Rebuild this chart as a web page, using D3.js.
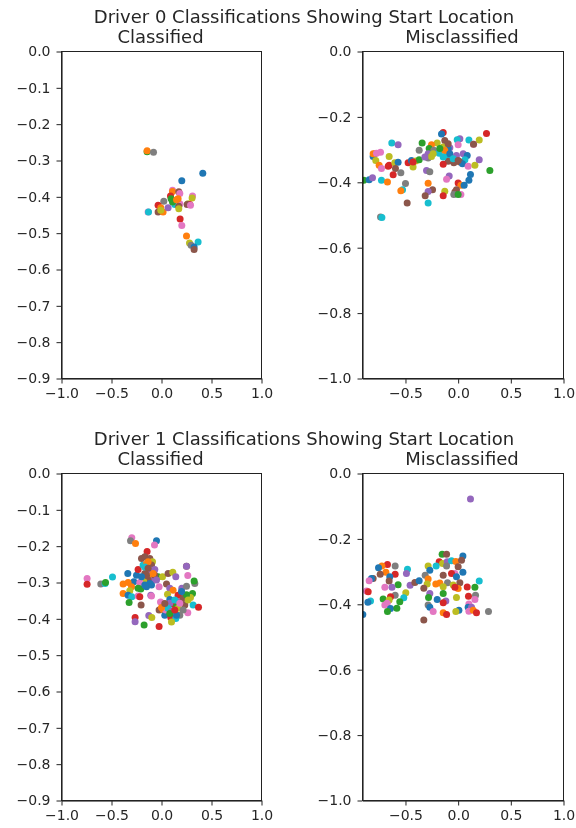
<!DOCTYPE html>
<html>
<head>
<meta charset="utf-8">
<script src="https://cdn.jsdelivr.net/npm/d3@7"></script>
<style>
body { margin: 0; background: #fff; }
svg { display: block; filter: blur(0.45px); }
text { font-family: "DejaVu Sans", sans-serif; fill: #262626; }
</style>
</head>
<body>
<div id="chart"></div>
<script>
// driver 0, classified
var d0ClassX = [-.144,-.144,-.080,.413,.203,.110,.110,.173,.183,.310,.306,.090,.096,.023,.133,.110,-.034,-.007,-.034,.016,-.007,.066,-.134,-.130,.183,.173,.173,.266,.283,.256,.290,.166,.150,.186,.203,.250,.366,.280,.296,.326,.326];
var d0ClassY = [-.276,-.273,-.277,-.335,-.356,-.382,-.385,-.386,-.391,-.398,-.403,-.398,-.405,-.412,-.421,-.414,-.423,-.430,-.442,-.442,-.437,-.430,-.442,-.442,-.419,-.426,-.433,-.419,-.421,-.421,-.423,-.405,-.408,-.461,-.479,-.508,-.524,-.527,-.533,-.538,-.545];
var d0ClassCat = [2,1,7,0,0,6,1,5,6,6,8,3,2,7,9,2,3,1,5,1,8,4,6,9,6,5,8,8,3,5,6,1,1,3,6,1,9,8,7,0,5];

// driver 0, misclassified
var d0MissX = [.269,.200,.102,.146,.146,.016,-.009,-.142,-.158,-.342,-.630,-.570,-.127,-.199,-.253,-.275,-.231,-.370,-.079,-.095,.000,-.142,-.180,-.110,-.285,-.285,-.253,-.016,.048,.086,-.079,.064,-.095,-.041,.016,-.142,.041,.095,.159,.200,.301,-.737,-.791,-.807,-.655,-.782,-.750,-.728,-.664,-.655,-.601,-.570,-.595,-.544,-.475,-.443,-.402,-.370,-.428,-.300,-.269,-.896,-.845,-.813,-.728,-.671,.117,.102,-.085,-.110,.000,.026,.057,-.500,-.285,-.528,-.544,-.243,-.285,-.313,-.127,-.142,-.016,-.031,-.041,.026,.000,-.484,-.285,-.737,-.724,-.617,-.127,-.079,-.174,-.047,.000,-.142,-.237,-.316,-.095,-.428,-.807,-.775];
var d0MissY = [-.251,-.271,-.271,-.284,-.284,-.267,-.270,-.248,-.252,-.280,-.280,-.285,-.272,-.280,-.285,-.297,-.302,-.302,-.294,-.297,-.285,-.292,-.311,-.318,-.313,-.326,-.321,-.318,-.313,-.318,-.333,-.331,-.336,-.340,-.338,-.345,-.343,-.351,-.348,-.331,-.364,-.308,-.313,-.321,-.321,-.333,-.348,-.358,-.351,-.348,-.340,-.339,-.358,-.371,-.340,-.333,-.335,-.331,-.353,-.364,-.368,-.394,-.392,-.386,-.394,-.399,-.376,-.394,-.381,-.391,-.402,-.409,-.409,-.404,-.403,-.423,-.426,-.423,-.428,-.441,-.427,-.441,-.423,-.430,-.437,-.437,-.437,-.463,-.463,-.506,-.508,-.377,-.303,-.313,-.297,-.328,-.333,-.323,-.313,-.323,-.282,-.338,-.313,-.311];
var d0MissCat = [3,8,9,6,5,4,9,3,0,2,9,4,5,8,1,2,7,7,4,0,6,8,9,9,4,7,8,4,4,0,9,9,5,5,5,3,0,6,8,4,2,6,1,0,8,8,1,6,3,3,8,0,5,7,3,0,8,2,8,4,7,2,0,4,9,1,0,0,4,6,3,1,0,7,1,9,1,5,4,5,8,3,5,5,7,6,2,5,9,7,9,3,1,0,2,9,5,9,8,4,5,3,1,6];

// driver 1, classified
var d1ClassX = [-.297,-.310,-.260,-.050,-.070,-.144,-.744,-.744,-.607,-.564,-.560,-.490,-.337,-.250,-.234,-.184,-.200,-.167,-.117,-.090,-.150,-.100,-.067,-.117,-.167,-.117,-.077,-.134,-.177,-.034,.010,.066,.113,.143,.250,.250,.263,-.277,-.217,-.384,-.334,-.300,-.317,-.384,-.334,-.297,-.234,-.217,-.207,-.150,-.100,-.024,-.324,-.204,-.107,-.100,.050,.083,.116,.060,.203,.250,.333,.326,.203,.310,.290,.166,.083,-.010,-.024,.016,.050,.113,.166,.233,.316,.370,.263,.150,.116,.183,.066,.033,.093,.143,.100,.043,.166,-.264,-.264,-.127,-.097,-.174,-.024,-.134,-.167,-.100,-.150,-.200,-.067,-.117,-.167,-.234,-.084,-.134,-.050,.083,.133,.216,.250,.183,.066,.100,.216,.150,.083,.000,.266,.133,.033,.200];
var d1ClassY = [-.177,-.185,-.193,-.185,-.197,-.215,-.289,-.305,-.304,-.303,-.300,-.285,-.275,-.280,-.264,-.252,-.234,-.229,-.234,-.243,-.249,-.252,-.264,-.270,-.275,-.289,-.293,-.293,-.298,-.284,-.284,-.275,-.272,-.284,-.255,-.255,-.281,-.298,-.300,-.304,-.300,-.312,-.323,-.330,-.335,-.339,-.337,-.339,-.318,-.312,-.307,-.312,-.355,-.362,-.335,-.337,-.304,-.316,-.321,-.332,-.316,-.310,-.303,-.296,-.332,-.330,-.341,-.335,-.347,-.354,-.376,-.374,-.371,-.359,-.353,-.362,-.362,-.368,-.383,-.367,-.378,-.390,-.385,-.390,-.396,-.399,-.409,-.376,-.371,-.396,-.408,-.391,-.396,-.417,-.421,-.243,-.257,-.266,-.280,-.284,-.280,-.303,-.307,-.316,-.275,-.261,-.293,-.357,-.348,-.344,-.334,-.357,-.371,-.380,-.376,-.390,-.385,-.369,-.348,-.376,-.358,-.325];
var d1ClassCat = [6,7,1,0,6,3,6,3,7,9,2,9,0,0,3,9,5,5,5,8,1,5,4,5,5,1,4,5,8,2,8,5,8,4,5,4,6,0,6,1,1,1,8,1,0,9,6,3,2,0,0,6,2,5,4,6,5,4,1,8,4,7,7,2,9,2,8,3,0,6,5,1,4,3,4,5,9,3,6,2,9,7,0,0,3,9,8,6,8,3,4,4,8,2,3,1,9,4,5,0,5,0,0,2,1,5,4,4,9,5,2,6,9,4,7,0,2,1,8,3,5,0];

// driver 1, misclassified
var d1MissX = [.117,.045,-.152,-.110,-.180,-.148,-.104,-.063,-.022,.032,.000,-.110,-.285,-.269,-.209,-.313,-.481,-.491,-.598,-.671,-.724,-.756,-.686,-.598,-.740,-.649,-.655,-.807,-.823,-.845,-.570,-.456,-.411,-.370,-.285,-.294,-.326,-.212,-.174,-.142,-.031,.045,-.063,-.016,-.101,.016,-.142,-.047,.000,-.031,.200,.086,.159,-.696,-.628,-.870,-.854,-.142,-.269,-.281,-.497,-.516,-.554,-.598,-.642,-.712,-.655,-.674,-.696,-.832,-.857,.098,.165,.159,-.016,-.199,-.117,-.142,-.285,-.269,-.642,-.582,-.671,.102,.095,.127,.102,.143,.174,.288,.007,-.022,-.142,-.110,-.237,-.326,-.905];
var d1MissY = [-.078,-.252,-.247,-.247,-.270,-.275,-.270,-.267,-.269,-.265,-.285,-.283,-.283,-.296,-.283,-.311,-.293,-.306,-.283,-.278,-.283,-.288,-.302,-.308,-.308,-.316,-.329,-.321,-.321,-.328,-.340,-.342,-.333,-.328,-.323,-.338,-.351,-.338,-.335,-.311,-.306,-.302,-.306,-.316,-.334,-.334,-.346,-.341,-.352,-.348,-.329,-.347,-.348,-.348,-.348,-.359,-.362,-.367,-.367,-.379,-.365,-.380,-.392,-.372,-.377,-.384,-.387,-.397,-.402,-.390,-.394,-.375,-.372,-.385,-.379,-.385,-.390,-.395,-.402,-.409,-.413,-.412,-.422,-.399,-.409,-.409,-.421,-.418,-.426,-.422,-.418,-.422,-.426,-.431,-.422,-.448,-.431];
var d1MissCat = [4,0,2,5,3,8,4,9,1,5,5,7,8,0,9,7,9,4,7,3,1,0,1,3,5,0,5,5,0,6,2,4,5,0,1,8,5,1,1,5,6,0,3,0,7,5,8,8,1,3,9,3,2,6,4,6,3,2,4,2,8,9,2,7,3,2,8,6,6,9,0,3,7,6,8,0,4,3,7,0,0,2,2,6,0,4,6,1,3,7,0,8,1,3,6,5,0];

var xTicksFull = [-1, -0.5, 0, 0.5, 1];
var xTicksMiss = [-0.5, 0, 0.5, 1];
var yTicksClass = [0, -0.1, -0.2, -0.3, -0.4, -0.5, -0.6, -0.7, -0.8, -0.9];
var yTicksMiss = [0, -0.2, -0.4, -0.6, -0.8, -1];

var width = 576, height = 828;
var fmt = d3.format('.1f');
var colors = d3.schemeCategory10;

var svg = d3.select('#chart').append('svg').attr('width', width).attr('height', height);
var clipCount = 0;

function panel(left, top, w, h, xDomain, yDomain, xTicks, yTicks, xs, ys, cats, title){
    var x = d3.scaleLinear().domain(xDomain).range([left, left + w]);
    var y = d3.scaleLinear().domain(yDomain).range([top + h, top]);
    var clipId = 'clip' + (clipCount++);
    svg.append('clipPath').attr('id', clipId).append('rect')
        .attr('x', left).attr('y', top).attr('width', w).attr('height', h);

    svg.append('g').attr('clip-path', 'url(#' + clipId + ')')
        .selectAll('circle').data(xs).enter().append('circle')
        .attr('cx', function(d){ return x(d); })
        .attr('cy', function(d, i){ return y(ys[i]); })
        .attr('r', 3.5)
        .style('fill', function(d, i){ return colors[cats[i]]; });

    var xAxis = svg.append('g').attr('transform', 'translate(0,' + (top + h) + ')')
        .call(d3.axisBottom(x).tickValues(xTicks).tickFormat(fmt).tickSize(5).tickSizeOuter(0).tickPadding(5));
    var yAxis = svg.append('g').attr('transform', 'translate(' + left + ',0)')
        .call(d3.axisLeft(y).tickValues(yTicks).tickFormat(fmt).tickSize(5).tickSizeOuter(0).tickPadding(6));
    [xAxis, yAxis].forEach(function(a){
        a.selectAll('text').style('font-size', '14px').style('font-family', '"DejaVu Sans", sans-serif');
        a.selectAll('line').style('stroke', '#222');
    });

    // top and right spines
    svg.append('rect').attr('x', left).attr('y', top).attr('width', w).attr('height', h)
        .style('fill', 'none').style('stroke', '#222').style('stroke-width', 1);

    svg.append('text').attr('x', left + w / 2 - 1).attr('y', top - 9)
        .attr('text-anchor', 'middle').style('font-size', '18px').text(title);
}

function suptitle(text, baseline){
    svg.append('text').attr('x', 304).attr('y', baseline)
        .attr('text-anchor', 'middle').style('font-size', '18px').text(text);
}

var leftX = 61.5, rightX = 362.5, rowW = 200, rowWR = 201, rowH = 327;
suptitle('Driver 0 Classifications Showing Start Location', 23);
panel(leftX, 51.5, rowW, rowH, [-1, 1], [-0.9, 0], xTicksFull, yTicksClass, d0ClassX, d0ClassY, d0ClassCat, 'Classified');
panel(rightX, 51.5, rowWR, rowH, [-0.908, 1], [-1, 0], xTicksMiss, yTicksMiss, d0MissX, d0MissY, d0MissCat, 'Misclassified');
suptitle('Driver 1 Classifications Showing Start Location', 445);
panel(leftX, 473.5, rowW, rowH, [-1, 1], [-0.9, 0], xTicksFull, yTicksClass, d1ClassX, d1ClassY, d1ClassCat, 'Classified');
panel(rightX, 473.5, rowWR, rowH, [-0.908, 1], [-1, 0], xTicksMiss, yTicksMiss, d1MissX, d1MissY, d1MissCat, 'Misclassified');
</script>
</body>
</html>
